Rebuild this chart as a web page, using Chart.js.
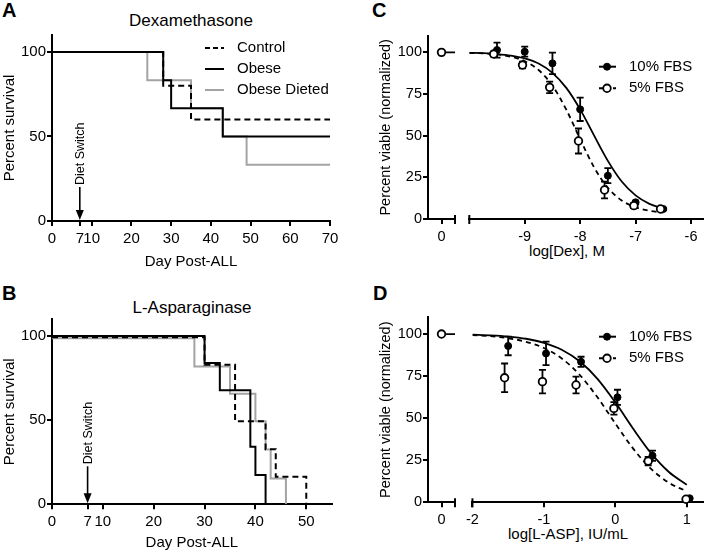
<!DOCTYPE html>
<html>
<head>
<meta charset="utf-8">
<script src="https://cdn.jsdelivr.net/npm/chart.js@4.4.1/dist/chart.umd.min.js"></script>
<style>
  body { margin: 0; background: #fff; width: 709px; height: 553px; position: relative; overflow: hidden;
         font-family: 'Liberation Sans', Arial, Helvetica, sans-serif; color: #000; }
  canvas { position: absolute; }
  .letter { position: absolute; font-weight: bold; font-size: 20px; line-height: 20px; }
  .ptitle { position: absolute; font-size: 17px; line-height: 17px; white-space: nowrap; transform: translateX(-50%); }
  .xtitle { position: absolute; font-size: 15px; line-height: 15px; white-space: nowrap; transform: translateX(-50%); }
</style>
</head>
<body>
<div class="letter" style="left:2px;top:0">A</div>
<div class="letter" style="left:2px;top:283px">B</div>
<div class="letter" style="left:372px;top:0">C</div>
<div class="letter" style="left:373px;top:283px">D</div>
<div class="ptitle" style="left:191px;top:12px">Dexamethasone</div>
<div class="ptitle" style="left:192px;top:299px">L-Asparaginase</div>
<div class="xtitle" style="left:567px;top:243px">log[Dex], M</div>
<div class="xtitle" style="left:568px;top:526px">log[L-ASP], IU/mL</div>

<canvas id="chartA" width="350" height="275" style="left:0;top:0"></canvas>
<canvas id="chartB" width="350" height="283" style="left:0;top:270px"></canvas>
<canvas id="chartC0" width="90" height="250" style="left:373px;top:0"></canvas>
<canvas id="chartC" width="247" height="250" style="left:462px;top:0"></canvas>
<canvas id="chartD0" width="90" height="270" style="left:373px;top:270px"></canvas>
<canvas id="chartD" width="247" height="270" style="left:462px;top:270px"></canvas>

<script>
// ---- Panel A: Dexamethasone survival (day post-ALL, % survival)
const dexControlDay = [0, 28, 35, 70];
const dexControlSurv = [100, 80, 60, 60];
const dexObeseDay = [0, 28, 30, 43, 70];
const dexObeseSurv = [100, 83.3, 66.7, 50, 50];
const dexDietedDay = [0, 24, 35, 43, 49, 70];
const dexDietedSurv = [100, 83.3, 66.7, 50, 33.3, 33.3];

// ---- Panel B: L-Asparaginase survival
const aspControlDay = [0, 30, 36, 42, 44, 50];
const aspControlSurv = [99.4, 83, 49.4, 32.8, 16.4, 0];
const aspObeseDay = [0, 30, 33, 39, 40, 42];
const aspObeseSurv = [100, 84, 67.8, 34.2, 17.4, 0];
const aspDietedDay = [0, 28, 35, 40, 42, 43, 46];
const aspDietedSurv = [98.8, 82, 65.8, 49.4, 32.6, 15.4, 0];

const dayTicksA = [0, 7, 10, 20, 30, 40, 50, 60, 70];
const dayTicksB = [0, 7, 10, 20, 30, 40, 50];
const survivalTicks = [0, 50, 100];
const dietSwitchDay = 7;

// ---- Panel C: viability vs log[Dex]
const vehicleDose = [0];
const vehicleViable = [100];
const vehicleLineX = [0, 1];
const dexLog10 = [-9.5, -9, -8.5, -8, -7.5, -7, -6.5];
const dexViable10 = [101.4, 100.4, 93.4, 65.8, 26, 10, 6];
const dexErr10 = [4.5, 3, 6.5, 7, 4.5, 1, 0.5];
const dexLog5 = [-9.56, -9.04, -8.55, -8.03, -7.56, -7.03, -6.55];
const dexViable5 = [99, 92.4, 79, 46.8, 17.4, 8, 6];
const dexErr5 = [1.5, 2, 3.5, 7.5, 5, 1.5, 1];
const dexFitLog = [-10, -9.75, -9.5, -9.25, -9, -8.75, -8.5, -8.25, -8, -7.75, -7.5, -7.25, -7, -6.75, -6.5];
const dexFit10 = [99.7, 99.5, 99.0, 98.1, 96.4, 93.3, 87.7, 78.7, 65.8, 50.2, 34.9, 22.5, 14.2, 9.1, 6.2];
const dexFit5 = [99.7, 99.4, 98.8, 97.4, 94.7, 89.4, 80.0, 65.6, 47.9, 31.1, 18.7, 11.1, 7.0, 4.9, 3.9];
const dexTicks = [-9, -8, -7, -6];

// ---- Panel D: viability vs log[L-ASP]
const aspLog10 = [-1.5, -0.97, -0.48, 0.03, 0.52, 1.04];
const aspViable10 = [92.9, 88.5, 83.5, 62.4, 27.7, 2.4];
const aspErr10 = [5.5, 7, 3, 4.5, 3, 0.5];
const aspLog5 = [-1.55, -1.02, -0.55, -0.02, 0.46, 0.99];
const aspViable5 = [74, 71.7, 69.7, 55.8, 24.5, 1.8];
const aspErr5 = [8.5, 7, 5, 3.7, 2.5, 0.5];
const aspFitLog = [-2, -1.75, -1.5, -1.25, -1, -0.75, -0.5, -0.25, 0, 0.25, 0.5, 0.75, 1];
const aspFit10 = [99.6, 99.2, 98.5, 97.2, 94.8, 90.7, 83.8, 73.4, 59.4, 43.7, 29.2, 18.0, 10.4];
const aspFit5 = [99.3, 98.7, 97.5, 95.4, 91.7, 85.5, 75.8, 62.4, 46.8, 31.9, 19.9, 11.6, 6.5];
const aspTicks = [-2, -1, 0, 1];

const viableTicks = [0, 25, 50, 75, 100];

const FONT = "'Liberation Sans', Arial, Helvetica, sans-serif";
const GREY = '#a3a3a3';

const pts = (xs, ys) => xs.map((x, i) => ({ x, y: ys[i] }));

function axis(min, max, tickValues, fontSize, pad, extra) {
  return Object.assign({
    type: 'linear',
    min, max,
    afterBuildTicks: s => { s.ticks = tickValues.map(v => ({ value: v })); },
    grid: { drawOnChartArea: false, drawTicks: true, tickLength: 5, color: '#000', lineWidth: 2 },
    border: { display: true, color: '#000', width: 2 },
    ticks: { color: '#000', font: { family: FONT, size: fontSize }, padding: pad,
             autoSkip: false, maxRotation: 0, callback: v => String(v) }
  }, extra || {});
}

// error bars drawn under the markers
const errorBars = {
  id: 'errorBars',
  beforeDatasetsDraw(chart) {
    const ctx = chart.ctx, ys = chart.scales.y;
    chart.data.datasets.forEach((ds, i) => {
      if (!ds.errors) return;
      const meta = chart.getDatasetMeta(i);
      ctx.save();
      ctx.strokeStyle = '#000';
      ctx.lineWidth = 1.8;
      meta.data.forEach((el, j) => {
        const e = ds.errors[j];
        if (!e) return;
        const v = ds.data[j].y;
        const top = ys.getPixelForValue(v + e), bot = ys.getPixelForValue(v - e);
        ctx.beginPath();
        ctx.moveTo(el.x, top); ctx.lineTo(el.x, bot);
        ctx.moveTo(el.x - 3.5, top); ctx.lineTo(el.x + 3.5, top);
        ctx.moveTo(el.x - 3.5, bot); ctx.lineTo(el.x + 3.5, bot);
        ctx.stroke();
      });
      ctx.restore();
    });
  }
};

// little legend placed inside the plot
function insetLegend(cfg) {
  return {
    id: 'insetLegend',
    afterDraw(chart) {
      const ctx = chart.ctx;
      ctx.save();
      cfg.items.forEach((it, k) => {
        const yy = cfg.top + k * cfg.gap;
        ctx.strokeStyle = it.color;
        ctx.lineWidth = it.width || 2;
        ctx.setLineDash(it.dash || []);
        ctx.beginPath();
        ctx.moveTo(cfg.x0, yy);
        ctx.lineTo(cfg.x1, yy);
        ctx.stroke();
        ctx.setLineDash([]);
        if (it.marker) {
          ctx.beginPath();
          ctx.arc(cfg.mx, yy, it.marker === 'open' ? 3.8 : 3.5, 0, Math.PI * 2);
          ctx.fillStyle = it.marker === 'open' ? '#fff' : '#000';
          ctx.fill();
          ctx.lineWidth = it.marker === 'open' ? 1.8 : 1;
          ctx.strokeStyle = '#000';
          ctx.stroke();
        }
        ctx.fillStyle = '#000';
        ctx.font = cfg.size + 'px ' + FONT;
        ctx.textAlign = 'left';
        ctx.textBaseline = 'middle';
        ctx.fillText(it.label, cfg.tx, yy);
      });
      ctx.restore();
    }
  };
}

// arrow + rotated label marking the diet switch
function dietSwitch(day, len) {
  return {
    id: 'dietSwitch',
    afterDraw(chart) {
      const ctx = chart.ctx;
      const x = chart.scales.x.getPixelForValue(day);
      const tip = chart.chartArea.bottom - 1;
      const start = tip - len;
      ctx.save();
      ctx.strokeStyle = '#000';
      ctx.fillStyle = '#000';
      ctx.lineWidth = 1.6;
      ctx.beginPath();
      ctx.moveTo(x, start);
      ctx.lineTo(x, tip - 8);
      ctx.stroke();
      ctx.beginPath();
      ctx.moveTo(x - 4, tip - 10);
      ctx.lineTo(x + 4, tip - 10);
      ctx.lineTo(x, tip);
      ctx.closePath();
      ctx.fill();
      ctx.translate(x + 1, start - 2);
      ctx.rotate(-Math.PI / 2);
      ctx.font = '12.5px ' + FONT;
      ctx.textAlign = 'left';
      ctx.textBaseline = 'middle';
      ctx.fillText('Diet Switch', 0, 0);
      ctx.restore();
    }
  };
}

// tick marks at the axis break
function breakMark(side) {
  return {
    id: 'breakMark',
    afterDraw(chart) {
      const ctx = chart.ctx, a = chart.chartArea;
      const x = side === 'right' ? a.right : a.left;
      ctx.save();
      ctx.strokeStyle = '#000';
      ctx.lineWidth = 2;
      ctx.beginPath();
      ctx.moveTo(x, a.bottom - 4);
      ctx.lineTo(x, a.bottom + 5);
      ctx.stroke();
      ctx.restore();
    }
  };
}

function baseOptions(padding, scales) {
  return {
    responsive: false,
    animation: false,
    events: [],
    layout: { padding },
    plugins: { legend: { display: false }, tooltip: { enabled: false } },
    scales
  };
}

function survLine(days, surv, color, dash, order) {
  return {
    data: pts(days, surv), showLine: true, stepped: true,
    borderColor: color, borderWidth: 2, borderDash: dash || [],
    pointRadius: 0, fill: false, order
  };
}

function fitLine(xs, ys, dash, order) {
  return {
    data: pts(xs, ys), showLine: true, cubicInterpolationMode: 'monotone',
    borderColor: '#000', borderWidth: 1.8, borderDash: dash || [],
    pointRadius: 0, fill: false, order
  };
}

function markers(xs, ys, errs, open, order) {
  return {
    data: pts(xs, ys), showLine: false, errors: errs,
    pointRadius: open ? 3.8 : 3.5,
    pointBackgroundColor: open ? '#fff' : '#000',
    pointBorderColor: '#000',
    pointBorderWidth: open ? 1.8 : 1,
    clip: false, order
  };
}

const survLegend = {
  x0: 205, x1: 224, mx: 0, tx: 237, top: 48, gap: 21, size: 15,
  items: [
    { label: 'Control', color: '#000', dash: [5, 3] },
    { label: 'Obese', color: '#000' },
    { label: 'Obese Dieted', color: GREY }
  ]
};

// ---- A
new Chart(document.getElementById('chartA'), {
  type: 'scatter',
  data: { datasets: [
    survLine(dexDietedDay, dexDietedSurv, GREY, null, 3),
    survLine(dexControlDay, dexControlSurv, '#000', [6, 4], 2),
    survLine(dexObeseDay, dexObeseSurv, '#000', null, 1)
  ] },
  options: baseOptions({ top: 35, right: 20, left: 0, bottom: 0 }, {
    x: axis(0, 70, dayTicksA, 15, 4, {
      afterFit: s => { s.height = 54; },
      title: { display: true, text: 'Day Post-ALL', color: '#000', font: { family: FONT, size: 15 }, padding: { top: 0, bottom: 4 } }
    }),
    y: axis(0, 110, survivalTicks, 15, 1, {
      afterFit: s => { s.width = 52; },
      title: { display: true, text: 'Percent survival', color: '#000', font: { family: FONT, size: 15 }, padding: { top: 1, bottom: 0 } }
    })
  }),
  plugins: [insetLegend(survLegend), dietSwitch(dietSwitchDay, 33)]
});

// ---- B
new Chart(document.getElementById('chartB'), {
  type: 'scatter',
  data: { datasets: [
    survLine(aspDietedDay, aspDietedSurv, GREY, null, 3),
    survLine(aspControlDay, aspControlSurv, '#000', [6, 4], 2),
    survLine(aspObeseDay, aspObeseSurv, '#000', null, 1)
  ] },
  options: baseOptions({ top: 49.3, right: 18.3, left: 0, bottom: 0 }, {
    x: axis(0, 55, dayTicksB, 15, 4, {
      afterFit: s => { s.height = 48.7; },
      title: { display: true, text: 'Day Post-ALL', color: '#000', font: { family: FONT, size: 15 }, padding: { top: 0, bottom: 1 } }
    }),
    y: axis(0, 110, survivalTicks, 15, 1, {
      afterFit: s => { s.width = 52; },
      title: { display: true, text: 'Percent survival', color: '#000', font: { family: FONT, size: 15 }, padding: { top: 1, bottom: 0 } }
    })
  }),
  plugins: [dietSwitch(dietSwitchDay, 37)]
});

// ---- C and D: vehicle segment (left) + dose segment (right)
function vehicleChart(id, padTop, xHeight) {
  return new Chart(document.getElementById(id), {
    type: 'scatter',
    data: { datasets: [
      { data: pts(vehicleLineX, [100, 100]), showLine: true, borderColor: '#000', borderWidth: 1.8, pointRadius: 0, order: 3 },
      markers(vehicleDose, vehicleViable, null, false, 2),
      markers(vehicleDose, vehicleViable, null, true, 1)
    ] },
    options: baseOptions({ top: padTop, right: 8, left: 0, bottom: 0 }, {
      x: axis(-1, 1, [0], 14.5, 4, { afterFit: s => { s.height = xHeight; } }),
      y: axis(0, 110, viableTicks, 14.5, 1, {
        afterFit: s => { s.width = 55; },
        title: { display: true, text: 'Percent viable (normalized)', color: '#000', font: { family: FONT, size: 14.5 }, padding: { top: 4, bottom: 0 } }
      })
    }),
    plugins: [breakMark('right')]
  });
}

function doseChart(id, padTop, padRight, xHeight, xMin, xMax, ticks, fx, f10, f5, x10, v10, e10, x5, v5, e5) {
  return new Chart(document.getElementById(id), {
    type: 'scatter',
    data: { datasets: [
      fitLine(fx, f10, null, 4),
      fitLine(fx, f5, [5, 4], 3),
      markers(x10, v10, e10, false, 2),
      markers(x5, v5, e5, true, 1)
    ] },
    options: baseOptions({ top: padTop, right: padRight, left: 7.3, bottom: 0 }, {
      x: axis(xMin, xMax, ticks, 14.5, 4, { afterFit: s => { s.height = xHeight; } }),
      y: axis(0, 110, viableTicks, 14.5, 1, { display: false })
    }),
    plugins: [errorBars, breakMark('left'), insetLegend({
      x0: 137, x1: 154, mx: 145, tx: 167, top: 66.7, gap: 21.6, size: 15,
      items: [
        { label: '10% FBS', color: '#000', marker: 'filled' },
        { label: '5% FBS', color: '#000', marker: 'open', dash: [4, 3] }
      ]
    })]
  });
}

vehicleChart('chartC0', 35.7, 31);
doseChart('chartC', 35.7, 4, 31, -10, -5.78, dexTicks, dexFitLog, dexFit10, dexFit5,
  dexLog10, dexViable10, dexErr10, dexLog5, dexViable5, dexErr5);

vehicleChart('chartD0', 47.2, 37.7);
doseChart('chartD', 47.2, 0.7, 37.7, -2, 1.23, aspTicks, aspFitLog, aspFit10, aspFit5,
  aspLog10, aspViable10, aspErr10, aspLog5, aspViable5, aspErr5);
</script>
</body>
</html>
